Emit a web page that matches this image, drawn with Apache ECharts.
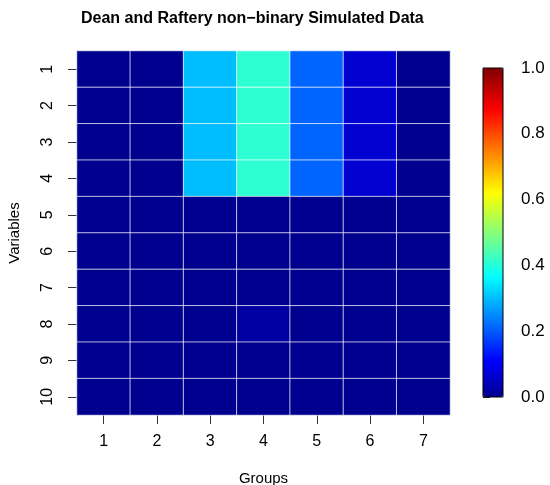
<!DOCTYPE html>
<html>
<head>
<meta charset="utf-8">
<script src="https://cdn.jsdelivr.net/npm/echarts@6/dist/echarts.min.js"></script>
<style>
  html, body { margin: 0; padding: 0; background: #fff; }
  #chart { width: 550px; height: 485px; }
</style>
</head>
<body>
<div id="chart"></div>
<script>
// groups along x, variables along y (1 at top)
var groups = ['1', '2', '3', '4', '5', '6', '7'];
var variables = ['1', '2', '3', '4', '5', '6', '7', '8', '9', '10'];
// one row per variable, one value per group
var values = [
  [0, 0, 0.30, 0.41, 0.21, 0.065, 0],
  [0, 0, 0.30, 0.41, 0.21, 0.065, 0],
  [0, 0, 0.30, 0.41, 0.21, 0.065, 0],
  [0, 0, 0.30, 0.41, 0.21, 0.065, 0],
  [0, 0, 0, 0, 0, 0, 0],
  [0, 0, 0, 0, 0, 0, 0],
  [0, 0, 0, 0, 0, 0, 0],
  [0, 0, 0, 0.02, 0, 0, 0],
  [0, 0, 0, 0, 0, 0, 0],
  [0, 0, 0, 0, 0, 0, 0]
];

// tim.colors(64) style palette
function timColors() {
  var anchors = [[0, [0, 0, 143]], [7, [0, 0, 255]], [23, [0, 255, 255]],
                 [39, [255, 255, 0]], [55, [255, 0, 0]], [63, [128, 0, 0]]];
  var out = [];
  for (var a = 0; a < anchors.length - 1; a++) {
    var i0 = anchors[a][0], i1 = anchors[a + 1][0];
    var c0 = anchors[a][1], c1 = anchors[a + 1][1];
    for (var i = i0; i < i1; i++) {
      var t = (i - i0) / (i1 - i0);
      out.push('rgb(' + [0, 1, 2].map(function (k) {
        return Math.round(c0[k] + (c1[k] - c0[k]) * t);
      }).join(',') + ')');
    }
  }
  out.push('rgb(128,0,0)');
  return out;
}

var cells = [];
values.forEach(function (row, r) {
  row.forEach(function (v, c) {
    cells.push([c, r, v]);
  });
});

var font = 'Liberation Sans, Arial, sans-serif';
var chart = echarts.init(document.getElementById('chart'));
chart.setOption({
  animation: false,
  title: {
    text: 'Dean and Raftery non\u2212binary Simulated Data',
    left: 76, top: 6,
    textStyle: { fontFamily: font, fontSize: 16, fontWeight: 'bold', color: '#000' }
  },
  grid: [
    { left: 77, top: 51, width: 373, height: 364, outerBoundsMode: 'none' },
    { left: 483, top: 68, width: 20, height: 329, show: true, z: 10, outerBoundsMode: 'none',
      borderColor: '#000', borderWidth: 1, backgroundColor: 'transparent' }
  ],
  xAxis: [
    {
      gridIndex: 0, type: 'category', data: groups,
      name: 'Groups', nameLocation: 'middle', nameGap: 56,
      nameTextStyle: { fontFamily: font, fontSize: 15, color: '#000' },
      axisLine: { show: false },
      axisTick: { show: true, alignWithLabel: true, length: 9, lineStyle: { color: '#333' } },
      axisLabel: { margin: 19, fontFamily: font, fontSize: 16, color: '#000' },
      splitLine: { show: false }
    },
    { gridIndex: 1, type: 'value', show: false, min: 0, max: 1 }
  ],
  yAxis: [
    {
      gridIndex: 0, type: 'category', data: variables, inverse: true,
      name: 'Variables', nameLocation: 'middle', nameGap: 55, nameRotate: 90,
      nameTextStyle: { fontFamily: font, fontSize: 15, color: '#000' },
      axisLine: { show: true, lineStyle: { color: '#555' } },
      axisTick: { show: true, alignWithLabel: true, length: 9, lineStyle: { color: '#333' } },
      axisLabel: { rotate: 90, margin: 21, fontFamily: font, fontSize: 16, color: '#000' },
      splitLine: { show: false }
    },
    {
      gridIndex: 1, type: 'value', position: 'right', min: 0, max: 1, interval: 0.2,
      axisLine: { show: false },
      axisTick: { show: true, length: 7, lineStyle: { color: '#333' } },
      axisLabel: {
        margin: 18, fontFamily: font, fontSize: 17, color: '#000',
        formatter: function (v) { return v.toFixed(1); }
      },
      splitLine: { show: false }
    }
  ],
  visualMap: {
    type: 'continuous', min: 0, max: 1, seriesIndex: 0,
    orient: 'vertical', left: 483, top: 68, padding: 0,
    itemWidth: 20, itemHeight: 329, calculable: false, text: null,
    showLabel: false, hoverLink: false,
    inRange: { color: timColors() }
  },
  series: [{
    type: 'heatmap', xAxisIndex: 0, yAxisIndex: 0,
    data: cells,
    itemStyle: { borderColor: 'rgba(255,255,255,0.7)', borderWidth: 1 },
    emphasis: { disabled: true }
  }]
});
</script>
</body>
</html>
